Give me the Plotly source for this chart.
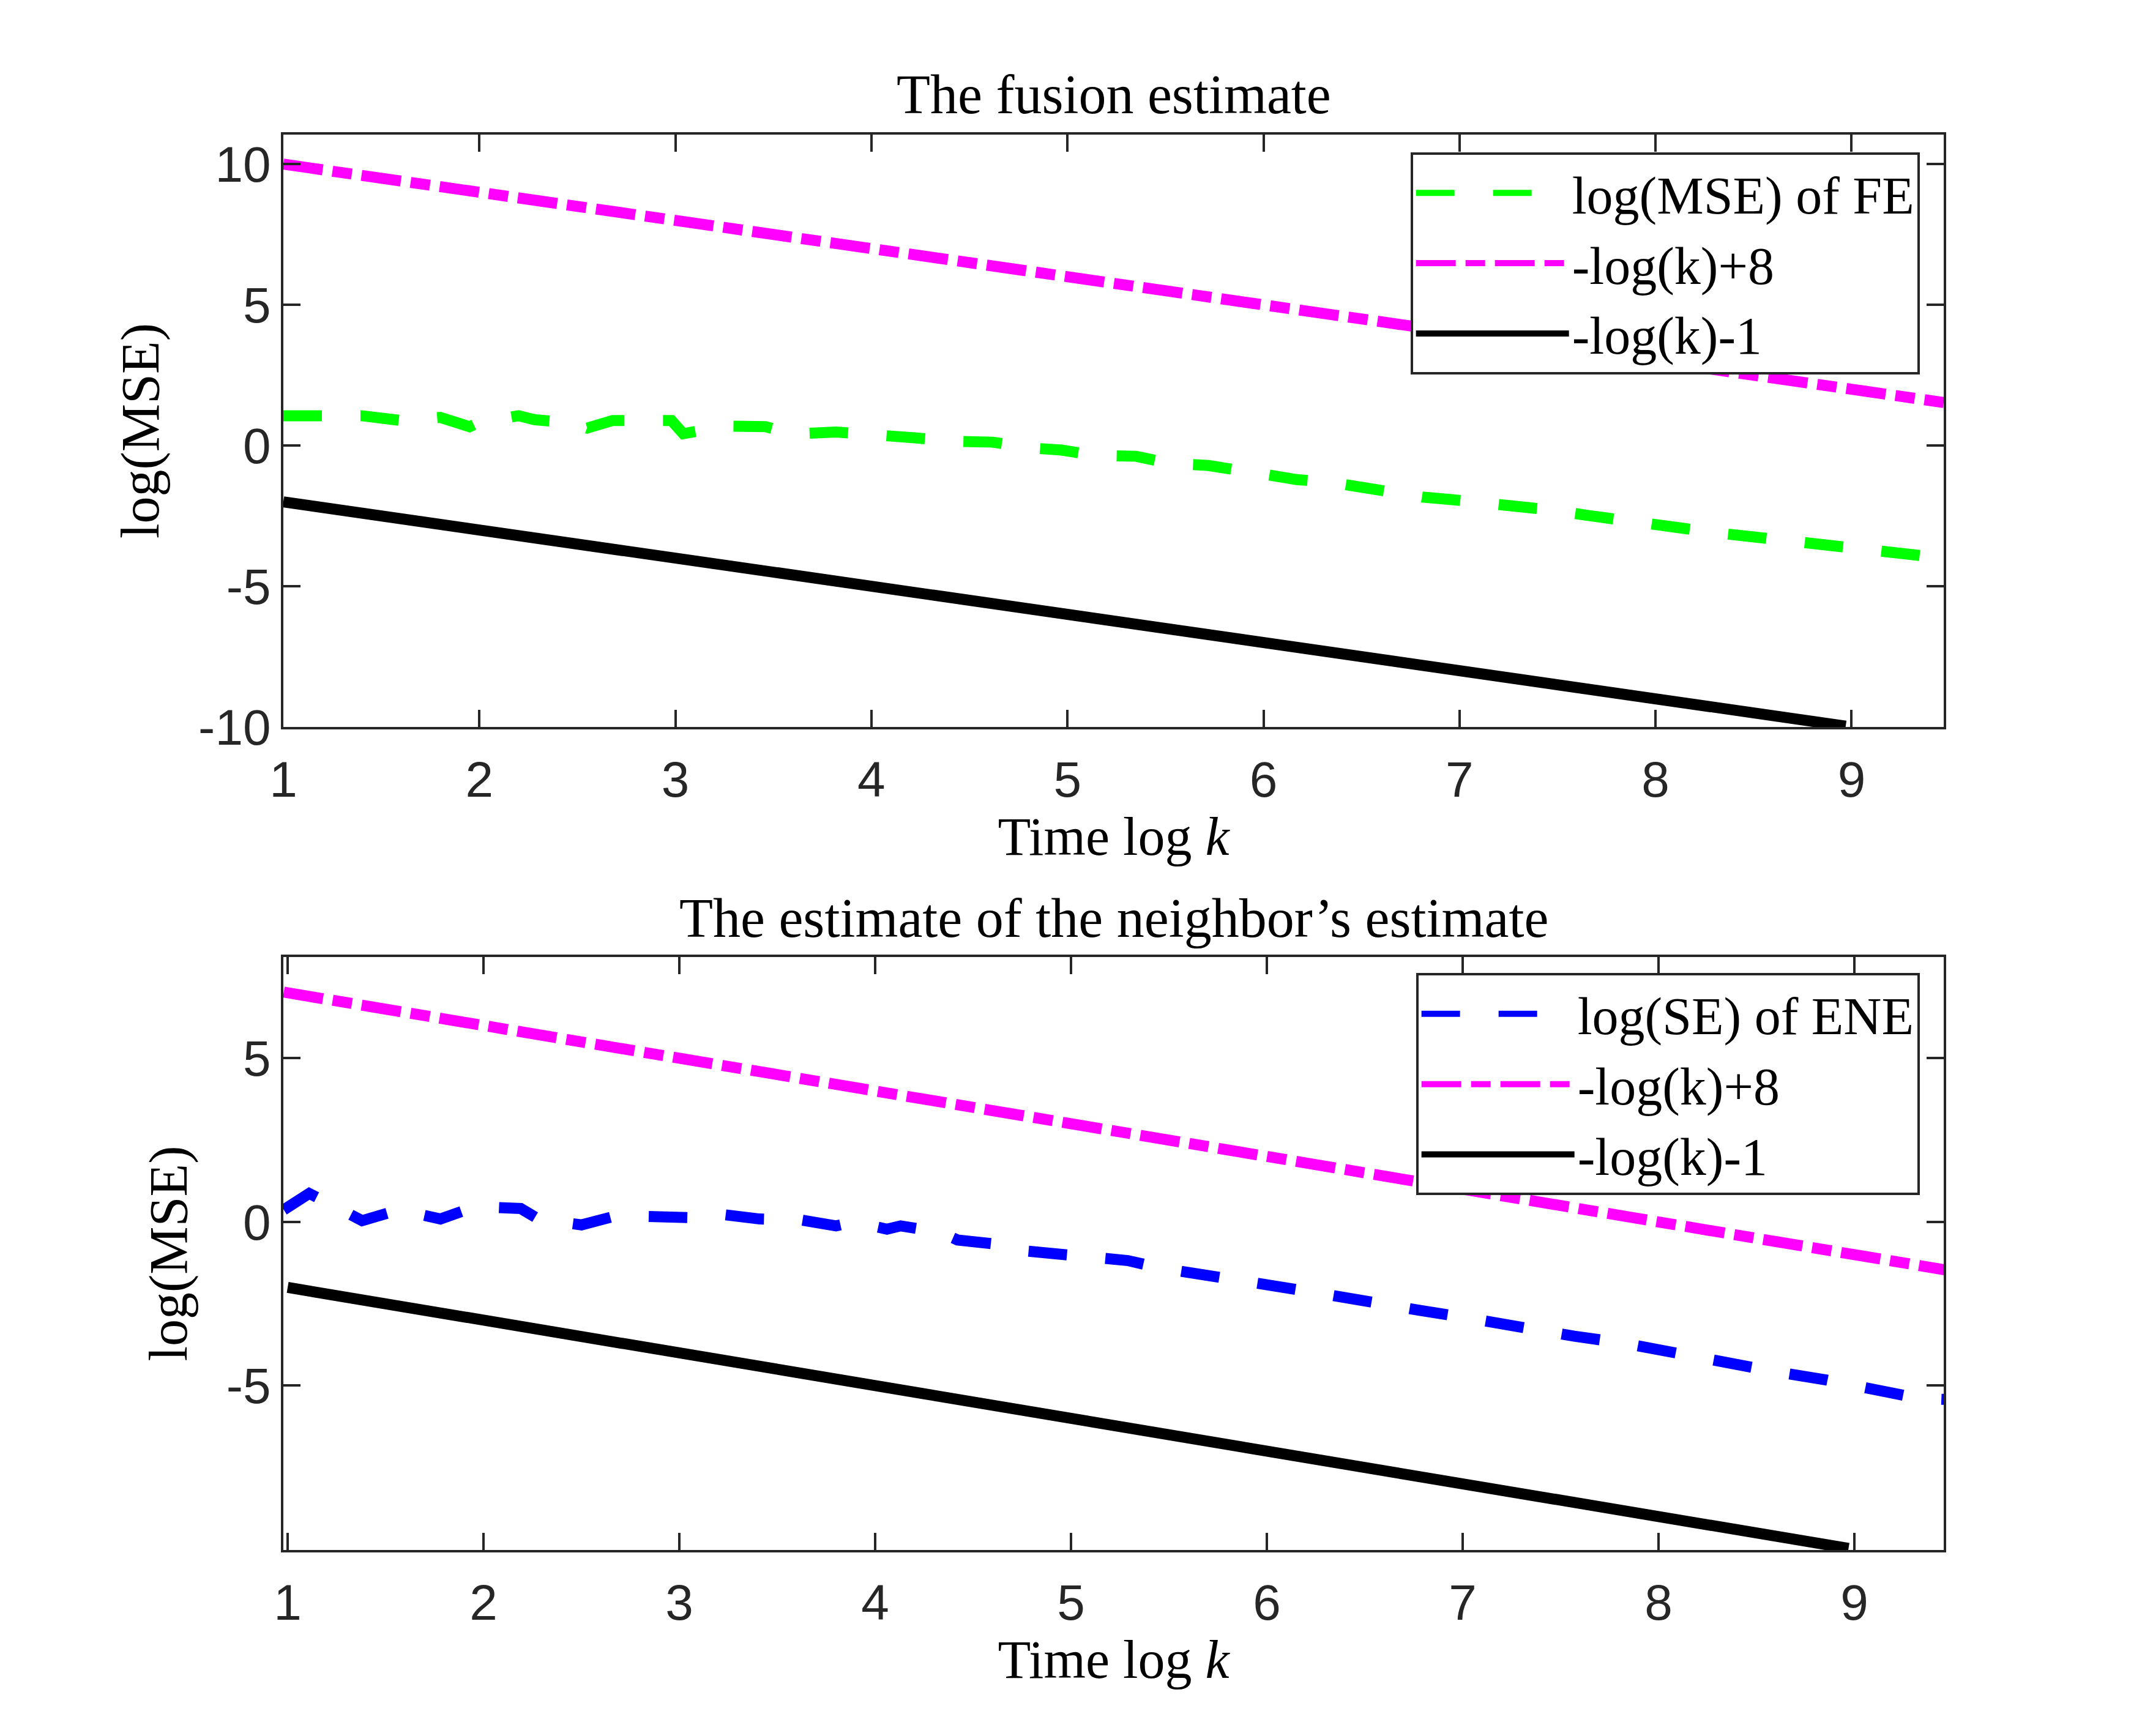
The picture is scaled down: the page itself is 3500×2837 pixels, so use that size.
import plotly.graph_objects as go

# time axis is log k, values are log(MSE)
fe_x = [1.0, 1.19, 1.40, 1.60, 1.80, 1.95, 1.99, 2.20, 2.28, 2.48, 2.55, 2.68,
        2.88, 2.98, 3.04, 3.25, 3.46, 3.60, 3.82, 4.02, 4.23, 4.42, 4.62,
        4.82, 4.97, 5.14, 5.35, 5.52, 5.72, 5.95, 6.17, 6.34, 6.50, 6.66,
        6.81, 6.96, 7.10, 7.30, 7.48, 7.65, 7.81, 7.98, 8.15, 8.31, 8.60,
        8.88, 9.20, 9.47]
fe_y = [1.06, 1.06, 1.06, 0.89, 1.00, 0.67, 0.80, 1.06, 0.92, 0.80, 0.62, 0.89,
        0.92, 0.89, 0.42, 0.69, 0.67, 0.41, 0.48, 0.41, 0.27, 0.15, 0.12,
        -0.09, -0.16, -0.35, -0.38, -0.63, -0.71, -0.96, -1.21, -1.30, -1.50, -1.69,
        -1.83, -1.92, -2.01, -2.21, -2.30, -2.48, -2.60, -2.78, -2.95, -3.10, -3.34,
        -3.56, -3.78, -4.00]

ene_x = [0.98, 1.11, 1.17, 1.38, 1.57, 1.78, 1.96, 2.19, 2.28, 2.50, 2.68,
         2.89, 3.08, 3.23, 3.41, 3.62, 3.80, 3.89, 4.06, 4.13, 4.33, 4.42,
         4.62, 4.74, 4.91, 5.11, 5.29, 5.45, 5.60, 5.75, 6.01, 6.27, 6.53,
         6.79, 7.05, 7.31, 7.57, 7.83, 8.08, 8.34, 8.60, 8.86, 9.12, 9.33, 9.46]
ene_y = [0.37, 0.87, 0.69, 0.04, 0.37, 0.09, 0.47, 0.41, 0.09, -0.09, 0.19,
         0.13, 0.13, 0.22, 0.09, 0.06, -0.12, 0.00, -0.22, -0.12, -0.31, -0.55,
         -0.68, -0.87, -0.95, -1.03, -1.18, -1.40, -1.52, -1.72, -1.93, -2.18, -2.47,
         -2.71, -2.96, -3.24, -3.49, -3.71, -4.02, -4.30, -4.58, -4.83, -5.11, -5.39, -5.42]

# reference slopes
top_upper_x = [1.0, 9.47]
top_upper_y = [10.0, 1.53]
bot_upper_x = [0.98, 9.46]
bot_upper_y = [7.02, -1.46]
lower_x = [1.0, 8.97]
lower_y = [-2.0, -9.97]

x_ticks = [1, 2, 3, 4, 5, 6, 7, 8, 9]
top_y_ticks = [-10, -5, 0, 5, 10]
top_y_labels = ["-10", "-5", "0", "5", "10"]
bot_y_ticks = [-5, 0, 5]
bot_y_labels = ["-5", "0", "5"]

AXIS = "#262626"
SERIF = "Liberation Serif"
SANS = "Liberation Sans"
LW = 18
DASH = "63px,63px"
DASHDOT = "65px,16px,32px,16px"

fig = go.Figure()

fig.add_trace(go.Scatter(x=fe_x, y=fe_y, mode="lines", name="log(MSE) of FE",
                         line=dict(color="#00ff00", width=LW, dash=DASH),
                         xaxis="x", yaxis="y", legend="legend"))
fig.add_trace(go.Scatter(x=top_upper_x, y=top_upper_y, mode="lines", name="-log(k)+8",
                         line=dict(color="#ff00ff", width=LW, dash=DASHDOT),
                         xaxis="x", yaxis="y", legend="legend"))
fig.add_trace(go.Scatter(x=lower_x, y=lower_y, mode="lines", name="-log(k)-1",
                         line=dict(color="black", width=LW),
                         xaxis="x", yaxis="y", legend="legend"))

fig.add_trace(go.Scatter(x=ene_x, y=ene_y, mode="lines", name="log(SE) of ENE",
                         line=dict(color="#0000ff", width=LW, dash=DASH),
                         xaxis="x2", yaxis="y2", legend="legend2"))
fig.add_trace(go.Scatter(x=bot_upper_x, y=bot_upper_y, mode="lines", name="-log(k)+8",
                         line=dict(color="#ff00ff", width=LW, dash=DASHDOT),
                         xaxis="x2", yaxis="y2", legend="legend2"))
fig.add_trace(go.Scatter(x=lower_x, y=lower_y, mode="lines", name="-log(k)-1",
                         line=dict(color="black", width=LW),
                         xaxis="x2", yaxis="y2", legend="legend2"))

axis_common = dict(
    showline=True, linecolor=AXIS, linewidth=4, mirror="ticks",
    ticks="inside", ticklen=28, tickwidth=4, tickcolor=AXIS,
    showgrid=False, zeroline=False,
    tickfont=dict(family=SANS, size=82, color=AXIS),
)
xtitle = dict(text="Time log <i>k</i>", standoff=14,
              font=dict(family=SERIF, size=88, color="black"))
ytitle = dict(text="log(MSE)", standoff=36,
              font=dict(family=SERIF, size=88, color="black"))

legend_common = dict(
    font=dict(family=SERIF, size=86, color="black"),
    bgcolor="white", bordercolor=AXIS, borderwidth=4,
    xanchor="right", yanchor="top", itemwidth=250,
)

fig.update_layout(
    width=3500, height=2837,
    paper_bgcolor="white", plot_bgcolor="white",
    margin=dict(l=455, r=332, t=212, b=312),
    xaxis=dict(domain=[0, 1], range=[1, 9.47], tickvals=x_ticks, anchor="y",
               ticklabelstandoff=12, title=xtitle, **axis_common),
    yaxis=dict(domain=[0.5815, 1], range=[-10, 11.05], tickvals=top_y_ticks,
               ticktext=top_y_labels, anchor="x", title=ytitle, **axis_common),
    xaxis2=dict(domain=[0, 1], range=[0.978, 9.456], tickvals=x_ticks, anchor="y2",
                ticklabelstandoff=12, title=xtitle, **axis_common),
    yaxis2=dict(domain=[0, 0.4189], range=[-10.02, 8.09], tickvals=bot_y_ticks,
                ticktext=bot_y_labels, anchor="x2", title=ytitle, **axis_common),
    legend=dict(x=0.9855, y=0.9875, **legend_common),
    legend2=dict(x=0.9855, y=0.4075, **legend_common),
    annotations=[
        dict(text="The fusion estimate", xref="paper", yref="paper", x=0.5, y=1,
             xanchor="center", yanchor="bottom", yshift=14, showarrow=False,
             font=dict(family=SERIF, size=90, color="black")),
        dict(text="The estimate of the neighbor’s estimate", xref="paper", yref="paper",
             x=0.5, y=0.4189, xanchor="center", yanchor="bottom", yshift=12,
             showarrow=False, font=dict(family=SERIF, size=90, color="black")),
    ],
)

fig.write_html("out.html")
